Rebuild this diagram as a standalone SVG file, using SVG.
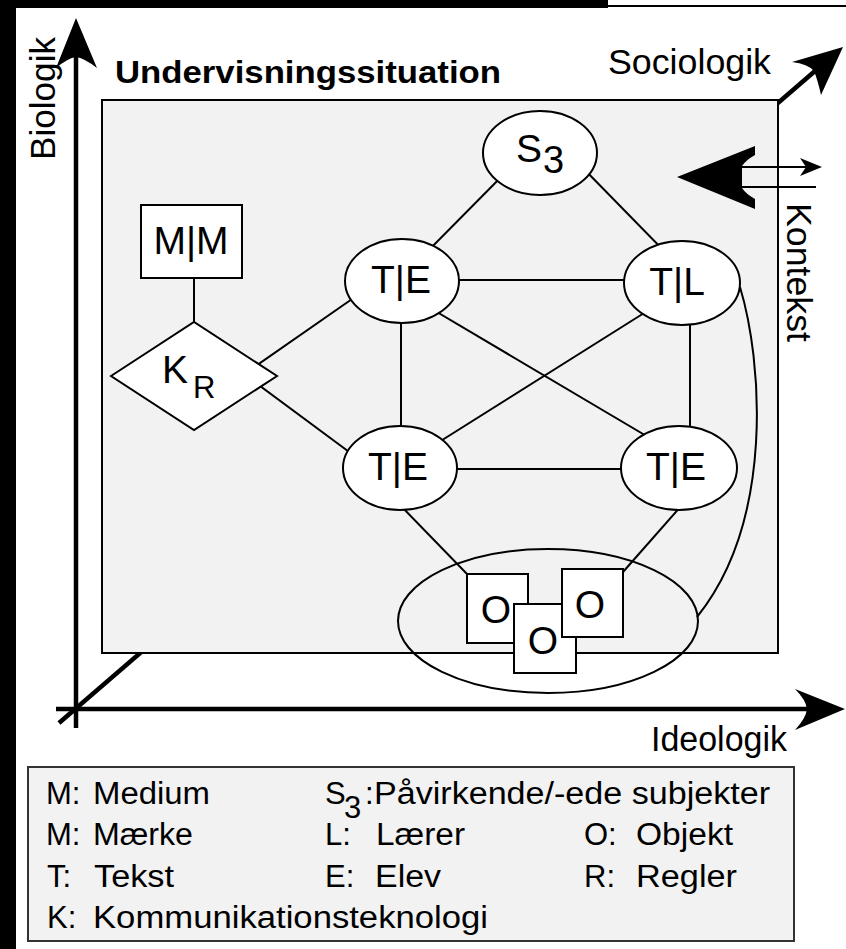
<svg xmlns="http://www.w3.org/2000/svg" width="846" height="949" viewBox="0 0 846 949">
<style>
text{font-family:"Liberation Sans",Arial,sans-serif;fill:#000}
.lbl{font-size:39px;text-anchor:middle}
.ax{font-size:35px}
.lg{font-size:31px}
.node{fill:#fff;stroke:#000;stroke-width:2}
.conn line,.conn path{stroke:#000;stroke-width:2;fill:none}
.axis{stroke:#000;stroke-width:4.5;fill:none}
.head{fill:#000;stroke:none}
</style>
<rect width="846" height="949" fill="#fff"/>
<rect x="0" y="0" width="608" height="8" fill="#000"/>
<rect x="0" y="0" width="16" height="949" fill="#000"/>
<line x1="608" y1="6" x2="846" y2="6" stroke="#000" stroke-width="2"/>

<g id="axes">
<line class="axis" x1="59" y1="723" x2="815" y2="71"/>
<line class="axis" x1="76" y1="728" x2="76" y2="55"/>
<line class="axis" x1="56" y1="709" x2="808" y2="709"/>
<path class="head" d="M76,18 L97,68 Q84,58 76,57 Q68,58 56,68 Z"/>
<path class="head" d="M845,709 L795,689 Q806,700 807,709 Q806,718 795,730 Z"/>
<path class="head" d="M843,47 L792,62 Q808,64 814,71 Q818,81 821,95 Z"/>
<text class="ax" transform="translate(55,160) rotate(-90)" textLength="123" lengthAdjust="spacingAndGlyphs">Biologik</text>
<text class="ax" x="608" y="74" textLength="163" lengthAdjust="spacingAndGlyphs">Sociologik</text>
<text class="ax" x="651" y="751" font-size="34" textLength="136" lengthAdjust="spacingAndGlyphs">Ideologik</text>
</g>

<rect id="situation" x="102" y="100" width="676" height="553" fill="#f2f2f2" stroke="#000" stroke-width="2"/>
<text x="115" y="83" font-weight="bold" font-size="32" textLength="386" lengthAdjust="spacingAndGlyphs">Undervisningssituation</text>

<g id="kontekst">
<path class="head" d="M677,177 L755,146 L755,155 Q746,160 742,166 L742,188 Q746,194 755,199 L755,209 Z"/>
<line x1="740" y1="167" x2="808" y2="167" stroke="#000" stroke-width="2"/>
<path class="head" d="M822,167 L800,158 L806,167 L800,176 Z"/>
<line x1="740" y1="187" x2="816" y2="187" stroke="#000" stroke-width="2"/>
<text class="ax" transform="translate(787,203) rotate(90)" textLength="139" lengthAdjust="spacingAndGlyphs">Kontekst</text>
</g>

<g id="connectors" class="conn">
<line x1="510" y1="168" x2="420" y2="259"/>
<line x1="580" y1="165" x2="670" y2="257"/>
<line x1="440" y1="280" x2="650" y2="280"/>
<line x1="401" y1="300" x2="401" y2="450"/>
<line x1="690" y1="300" x2="690" y2="450"/>
<line x1="420" y1="302" x2="665" y2="447"/>
<line x1="660" y1="303" x2="420" y2="454"/>
<line x1="420" y1="469" x2="660" y2="469"/>
<line x1="240" y1="377" x2="365" y2="290"/>
<line x1="240" y1="371" x2="360" y2="460"/>
<line x1="194" y1="270" x2="194" y2="330"/>
<line x1="400" y1="505" x2="467" y2="574"/>
<line x1="682" y1="505" x2="623" y2="572"/>
<path d="M740,287 C762,360 775,520 697,617"/>
</g>

<g id="node-S3">
<ellipse class="node" cx="540" cy="153" rx="57" ry="42"/>
<text x="516" y="162" font-size="39">S</text>
<text x="543" y="173" font-size="38">3</text>
</g>
<g id="node-TE-top">
<ellipse class="node" cx="402" cy="281" rx="57" ry="42"/>
<text class="lbl" x="401" y="293">T|E</text>
</g>
<g id="node-TL">
<ellipse class="node" cx="682" cy="283" rx="58" ry="42"/>
<text class="lbl" x="677" y="295">T|L</text>
</g>
<g id="node-TE-left">
<ellipse class="node" cx="400" cy="468" rx="57" ry="42"/>
<text class="lbl" x="398" y="480">T|E</text>
</g>
<g id="node-TE-right">
<ellipse class="node" cx="679" cy="468" rx="58" ry="42"/>
<text class="lbl" x="676" y="480">T|E</text>
</g>
<g id="node-MM">
<rect class="node" x="141" y="205" width="101" height="73"/>
<text class="lbl" x="191" y="254">M|M</text>
</g>
<g id="node-KR">
<path class="node" d="M111,376 L194,322 L277,376 L194,430 Z"/>
<text x="162" y="383" font-size="39">K</text>
<text x="193" y="398" font-size="31">R</text>
</g>
<g id="node-objects">
<ellipse cx="548" cy="621" rx="150" ry="72" fill="none" stroke="#000" stroke-width="2"/>
<rect class="node" x="467" y="574" width="61" height="69"/>
<text class="lbl" x="496" y="623">O</text>
<rect class="node" x="514" y="604" width="62" height="69"/>
<text class="lbl" x="543" y="654">O</text>
<rect class="node" x="562" y="569" width="61" height="68"/>
<text class="lbl" x="590" y="618">O</text>
</g>

<g id="legend">
<rect x="28" y="767" width="766" height="174" fill="#f2f2f2" stroke="#333" stroke-width="2"/>
<text class="lg" x="46" y="804">M:</text>
<text class="lg" x="93" y="804" textLength="117" lengthAdjust="spacingAndGlyphs">Medium</text>
<text class="lg" x="325" y="804">S</text>
<text class="lg" x="344" y="818" font-size="26">3</text>
<text class="lg" x="365" y="804">:</text>
<text class="lg" x="374" y="804" textLength="396" lengthAdjust="spacingAndGlyphs">Påvirkende/-ede subjekter</text>
<text class="lg" x="46" y="845">M:</text>
<text class="lg" x="93" y="845" textLength="100" lengthAdjust="spacingAndGlyphs">Mærke</text>
<text class="lg" x="325" y="845">L:</text>
<text class="lg" x="376" y="845" textLength="89" lengthAdjust="spacingAndGlyphs">Lærer</text>
<text class="lg" x="584" y="845">O:</text>
<text class="lg" x="636" y="845" textLength="97" lengthAdjust="spacingAndGlyphs">Objekt</text>
<text class="lg" x="47" y="887">T:</text>
<text class="lg" x="94" y="887" textLength="80" lengthAdjust="spacingAndGlyphs">Tekst</text>
<text class="lg" x="325" y="887">E:</text>
<text class="lg" x="375" y="887" textLength="66" lengthAdjust="spacingAndGlyphs">Elev</text>
<text class="lg" x="584" y="887">R:</text>
<text class="lg" x="636" y="887" textLength="101" lengthAdjust="spacingAndGlyphs">Regler</text>
<text class="lg" x="47" y="928">K:</text>
<text class="lg" x="93" y="928" textLength="395" lengthAdjust="spacingAndGlyphs">Kommunikationsteknologi</text>
</g>
</svg>
